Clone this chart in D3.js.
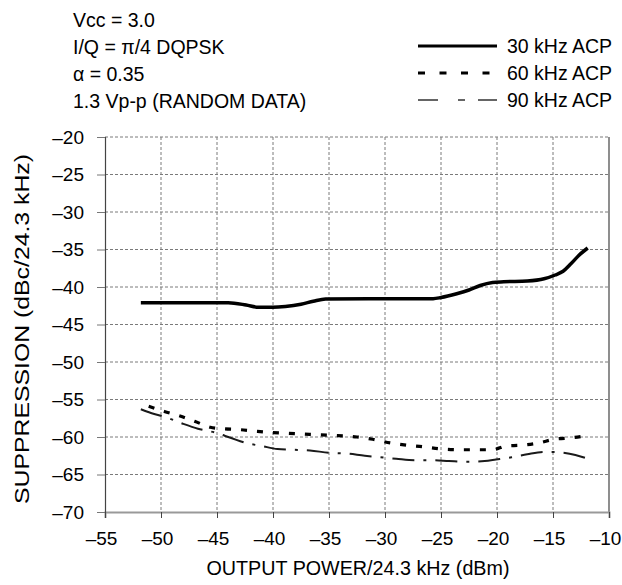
<!DOCTYPE html>
<html>
<head>
<meta charset="utf-8">
<script src="https://cdn.jsdelivr.net/npm/d3@7"></script>
<style>
  html, body { margin: 0; padding: 0; background: #fff; }
  svg { display: block; font-family: "Liberation Sans", Arial, Helvetica, sans-serif; }
</style>
</head>
<body>
<svg id="chart" width="622" height="585"></svg>
<script>
// ---- data ----
const xTicks = [-55, -50, -45, -40, -35, -30, -25, -20, -15, -10];
const yTicks = [-20, -25, -30, -35, -40, -45, -50, -55, -60, -65, -70];

const acp30x = [-51.8, -48, -44, -42.4, -41.3, -40, -38.9, -37.5, -36.4, -35.3, -30, -25.7, -25, -23.6, -22.5, -21.5, -20.4, -19.4, -17.3, -15.8, -14.8, -14.1, -13.4, -12.7, -11.9];
const acp30y = [-42.1, -42.1, -42.1, -42.4, -42.7, -42.7, -42.6, -42.3, -41.9, -41.6, -41.55, -41.55, -41.4, -40.9, -40.4, -39.8, -39.4, -39.3, -39.2, -38.9, -38.4, -37.9, -36.9, -35.8, -34.8];

const acp60x = [-51.1, -49.7, -48.3, -47.0, -45.6, -44.5, -43.1, -41.7, -40.1, -38.7, -37.3, -36.0, -34.3, -32.5, -31.1, -29.5, -28.0, -26.6, -25.0, -23.3, -21.8, -20.4, -19.2, -17.9, -16.3, -14.9, -13.3, -11.9];
const acp60y = [-55.9, -56.6, -57.2, -57.9, -58.7, -58.9, -59.0, -59.2, -59.4, -59.5, -59.6, -59.7, -59.8, -60.0, -60.3, -60.8, -61.1, -61.3, -61.6, -61.7, -61.7, -61.7, -61.2, -61.1, -60.8, -60.3, -60.1, -59.8];

const acp90x = [-51.8, -50.9, -49.5, -48.1, -46.7, -45.2, -43.8, -42.4, -41.0, -39.6, -38.2, -36.7, -35.0, -33.5, -31.8, -30.4, -29.0, -27.2, -25.7, -24.3, -22.5, -21.1, -20.1, -18.7, -17.3, -15.8, -14.9, -14.1, -13.0, -11.9];
const acp90y = [-56.3, -56.8, -57.4, -58.2, -58.9, -59.4, -60.1, -60.8, -61.2, -61.6, -61.7, -61.8, -62.1, -62.2, -62.5, -62.7, -62.9, -63.1, -63.1, -63.2, -63.3, -63.2, -63.0, -62.7, -62.3, -62.0, -62.0, -62.1, -62.4, -62.9];

const notes = ["Vcc = 3.0", "I/Q = \u03C0/4 DQPSK", "\u03B1 = 0.35", "1.3 Vp-p (RANDOM DATA)"];
const legendLabels = ["30 kHz ACP", "60 kHz ACP", "90 kHz ACP"];
const xTitle = "OUTPUT POWER/24.3 kHz (dBm)";
const yTitle = "SUPPRESSION (dBc/24.3 kHz)";

// ---- layout ----
const svg = d3.select("#chart");
const L = 105, R = 609, T = 137, B = 512;
const x = d3.scaleLinear().domain([-55, -10]).range([L, R]);
const y = d3.scaleLinear().domain([-70, -20]).range([B, T]);
const fmt = d => (d < 0 ? "\u2013" + Math.abs(d) : String(d));
const FS = 19;

// gridlines
const grid = svg.append("g");
grid.selectAll("line.h").data(yTicks.filter(d => d > -70)).enter().append("line")
  .attr("x1", L).attr("x2", R).attr("y1", d => y(d)).attr("y2", d => y(d))
  .attr("stroke", "#7a7a7a").attr("stroke-width", 1).attr("stroke-dasharray", "3,2");
grid.selectAll("line.v").data(xTicks.filter(d => d > -55 && d < -10)).enter().append("line")
  .attr("y1", T).attr("y2", B).attr("x1", d => x(d)).attr("x2", d => x(d))
  .attr("stroke", "#7a7a7a").attr("stroke-width", 1).attr("stroke-dasharray", "3,2");

// right border
svg.append("line").attr("x1", R).attr("x2", R).attr("y1", T).attr("y2", B)
  .attr("stroke", "#444").attr("stroke-width", 1.2);

// axes
const xAxis = d3.axisBottom(x).tickValues(xTicks).tickFormat(fmt).tickSize(6).tickPadding(14);
const gx = svg.append("g").attr("transform", `translate(0,${B})`).call(xAxis);
gx.select(".domain").attr("stroke", "#999").attr("stroke-width", 2);
gx.selectAll(".tick line").attr("stroke", "#444");
gx.selectAll("text").attr("font-size", FS).attr("fill", "#000").attr("dx", -4)
  .attr("font-family", "Liberation Sans, Arial, sans-serif");

const yAxis = d3.axisLeft(y).tickValues(yTicks).tickFormat(fmt).tickSize(8).tickPadding(13);
const gy = svg.append("g").attr("transform", `translate(${L},0)`).call(yAxis);
gy.select(".domain").attr("stroke", "#444").attr("stroke-width", 1.2);
gy.selectAll(".tick line").attr("stroke", "#777");
gy.selectAll("text").attr("font-size", FS).attr("fill", "#000")
  .attr("font-family", "Liberation Sans, Arial, sans-serif");

// lines
const line = d3.line().curve(d3.curveMonotoneX);
const toPts = (xs, ys) => xs.map((v, i) => [x(v), y(ys[i])]);

svg.append("path").attr("d", line(toPts(acp30x, acp30y)))
  .attr("fill", "none").attr("stroke", "#000").attr("stroke-width", 3.5);
svg.append("path").attr("d", line(toPts(acp60x, acp60y)))
  .attr("fill", "none").attr("stroke", "#000").attr("stroke-width", 3.2)
  .attr("stroke-dasharray", "6,10");
svg.append("path").attr("d", line(toPts(acp90x, acp90y)))
  .attr("fill", "none").attr("stroke", "#1a1a1a").attr("stroke-width", 2)
  .attr("stroke-dasharray", "22,9,3,9");

// notes
svg.append("g").selectAll("text").data(notes).enter().append("text")
  .attr("x", 73).attr("y", (d, i) => 27 + i * 27)
  .attr("font-size", 19.5).attr("fill", "#000").text(d => d);

// legend
const lg = svg.append("g");
const styles = [
  { w: 3, dash: null, c: "#000" },
  { w: 3, dash: "7,14.5", c: "#000" },
  { w: 1.5, dash: "20,20,7,13,20", c: "#333" }
];
legendLabels.forEach((lab, i) => {
  const ly = 46 + i * 27;
  const s = styles[i];
  const l = lg.append("line").attr("x1", 418).attr("x2", 497).attr("y1", ly).attr("y2", ly)
    .attr("stroke", s.c).attr("stroke-width", s.w);
  if (s.dash) l.attr("stroke-dasharray", s.dash);
  lg.append("text").attr("x", 507).attr("y", ly + 6.5).attr("font-size", 19.5).attr("fill", "#000").text(lab);
});

// titles
svg.append("text").attr("x", 358).attr("y", 575).attr("text-anchor", "middle")
  .attr("font-size", 19.5).attr("fill", "#000")
  .attr("textLength", 303).attr("lengthAdjust", "spacingAndGlyphs").text(xTitle);
svg.append("text").attr("transform", `translate(29,329) rotate(-90)`).attr("text-anchor", "middle")
  .attr("font-size", 19.5).attr("fill", "#000")
  .attr("textLength", 350).attr("lengthAdjust", "spacingAndGlyphs").text(yTitle);
</script>
</body>
</html>
